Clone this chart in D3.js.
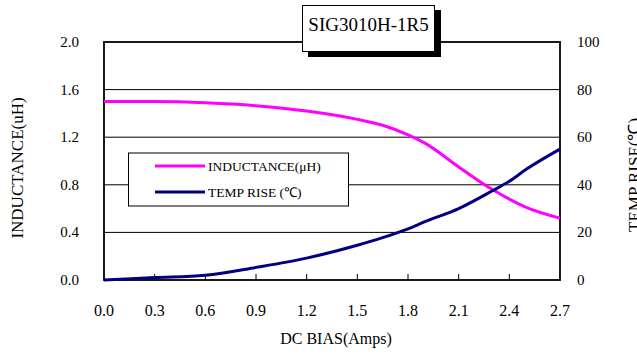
<!DOCTYPE html>
<html>
<head>
<meta charset="utf-8">
<script src="https://cdn.jsdelivr.net/npm/d3@7"></script>
<style>
  body { margin: 0; background: #fff; }
  text { font-family: "Liberation Serif", "Times New Roman", serif; fill: #000; }
</style>
</head>
<body>
<script>
// data
var bias = [0, 0.3, 0.6, 0.9, 1.2, 1.5, 1.65, 1.8, 1.9, 2.1, 2.3, 2.4, 2.5, 2.7];
var inductance = [1.50, 1.50, 1.49, 1.465, 1.42, 1.35, 1.30, 1.22, 1.15, 0.95, 0.76, 0.68, 0.61, 0.52];
var tempRise = [0, 1, 2, 5.3, 9.2, 14.6, 17.8, 21.5, 24.5, 30, 37.5, 41.5, 46.5, 55];
var xTicks = [0, 0.3, 0.6, 0.9, 1.2, 1.5, 1.8, 2.1, 2.4, 2.7];
var leftTicks = [0, 0.4, 0.8, 1.2, 1.6, 2.0];
var rightTicks = [0, 20, 40, 60, 80, 100];
var title = "SIG3010H-1R5";

var W = 637, H = 354;
// plot box (window.top is read-only, so no "top" here)
var pL = 104, pR = 560, pT = 42, pB = 280;

var svg = d3.select("body").append("svg")
    .attr("width", W)
    .attr("height", H);

var x = d3.scaleLinear().domain([0, 2.7]).range([pL, pR]);
var yL = d3.scaleLinear().domain([0, 2.0]).range([pB, pT]);
var yR = d3.scaleLinear().domain([0, 100]).range([pB, pT]);

// gridlines
svg.selectAll("line.grid")
    .data(leftTicks.slice(1, -1))
    .enter().append("line")
    .attr("class", "grid")
    .attr("x1", pL).attr("x2", pR)
    .attr("y1", function (d) { return yL(d); })
    .attr("y2", function (d) { return yL(d); })
    .attr("stroke", "#000")
    .attr("stroke-width", 1);

// x ticks pointing up
svg.selectAll("line.xt")
    .data(xTicks.slice(1, -1))
    .enter().append("line")
    .attr("class", "xt")
    .attr("x1", function (d) { return x(d); })
    .attr("x2", function (d) { return x(d); })
    .attr("y1", pB).attr("y2", pB - 6)
    .attr("stroke", "#000");

// frame
svg.append("rect")
    .attr("x", pL).attr("y", pT)
    .attr("width", pR - pL).attr("height", pB - pT)
    .attr("fill", "none")
    .attr("stroke", "#000")
    .attr("stroke-width", 1.8);

// tick labels
svg.selectAll("text.xl")
    .data(xTicks)
    .enter().append("text")
    .attr("class", "xl")
    .attr("x", function (d) { return x(d); })
    .attr("y", 316)
    .attr("text-anchor", "middle")
    .style("font-size", "16px")
    .text(function (d) { return d3.format(".1f")(d); });

svg.selectAll("text.yl")
    .data(leftTicks)
    .enter().append("text")
    .attr("class", "yl")
    .attr("x", 79)
    .attr("y", function (d) { return yL(d) + 5; })
    .attr("text-anchor", "end")
    .style("font-size", "15px")
    .text(function (d) { return d3.format(".1f")(d); });

svg.selectAll("text.yr")
    .data(rightTicks)
    .enter().append("text")
    .attr("class", "yr")
    .attr("x", 577)
    .attr("y", function (d) { return yR(d) + 5; })
    .style("font-size", "15px")
    .text(function (d) { return d; });

// axis titles
svg.append("text")
    .attr("x", 336).attr("y", 344)
    .attr("text-anchor", "middle")
    .style("font-size", "16px")
    .text("DC BIAS(Amps)");

svg.append("text")
    .attr("transform", "translate(23,168) rotate(-90)")
    .attr("text-anchor", "middle")
    .style("font-size", "17px")
    .text("INDUCTANCE(uH)");

svg.append("text")
    .attr("transform", "translate(640,232) rotate(-90)")
    .style("font-size", "17px")
    .text("TEMP RISE(℃)");

// curves
var lineL = d3.line()
    .x(function (d, i) { return x(bias[i]); })
    .y(function (d) { return yL(d); })
    .curve(d3.curveMonotoneX);
var lineR = d3.line()
    .x(function (d, i) { return x(bias[i]); })
    .y(function (d) { return yR(d); })
    .curve(d3.curveMonotoneX);

svg.append("path")
    .attr("d", lineL(inductance))
    .attr("fill", "none")
    .attr("stroke", "#ff00ff")
    .attr("stroke-width", 3);

svg.append("path")
    .attr("d", lineR(tempRise))
    .attr("fill", "none")
    .attr("stroke", "#000080")
    .attr("stroke-width", 3);

// legend
var legend = [
    { name: "INDUCTANCE(μH)", color: "#ff00ff" },
    { name: "TEMP RISE (℃)", color: "#000080" }
];
svg.append("rect")
    .attr("x", 128.5).attr("y", 153)
    .attr("width", 220).attr("height", 53)
    .attr("fill", "#fff")
    .attr("stroke", "#000")
    .attr("stroke-width", 1);
var lg = svg.selectAll("g.lg")
    .data(legend)
    .enter().append("g")
    .attr("class", "lg")
    .attr("transform", function (d, i) { return "translate(0," + (166 + i * 26) + ")"; });
lg.append("line")
    .attr("x1", 155).attr("x2", 205)
    .attr("stroke", function (d) { return d.color; })
    .attr("stroke-width", 3);
lg.append("text")
    .attr("x", 208).attr("y", 5)
    .style("font-size", "13.5px")
    .text(function (d) { return d.name; });

// title box with shadow
svg.append("rect")
    .attr("x", 308).attr("y", 10)
    .attr("width", 133).attr("height", 47)
    .attr("fill", "#000");
svg.append("rect")
    .attr("x", 302.5).attr("y", 5.5)
    .attr("width", 132).attr("height", 46)
    .attr("fill", "#fff")
    .attr("stroke", "#000")
    .attr("stroke-width", 1);
svg.append("text")
    .attr("x", 368.5).attr("y", 31)
    .attr("text-anchor", "middle")
    .style("font-size", "19px")
    .text(title);
</script>
</body>
</html>
